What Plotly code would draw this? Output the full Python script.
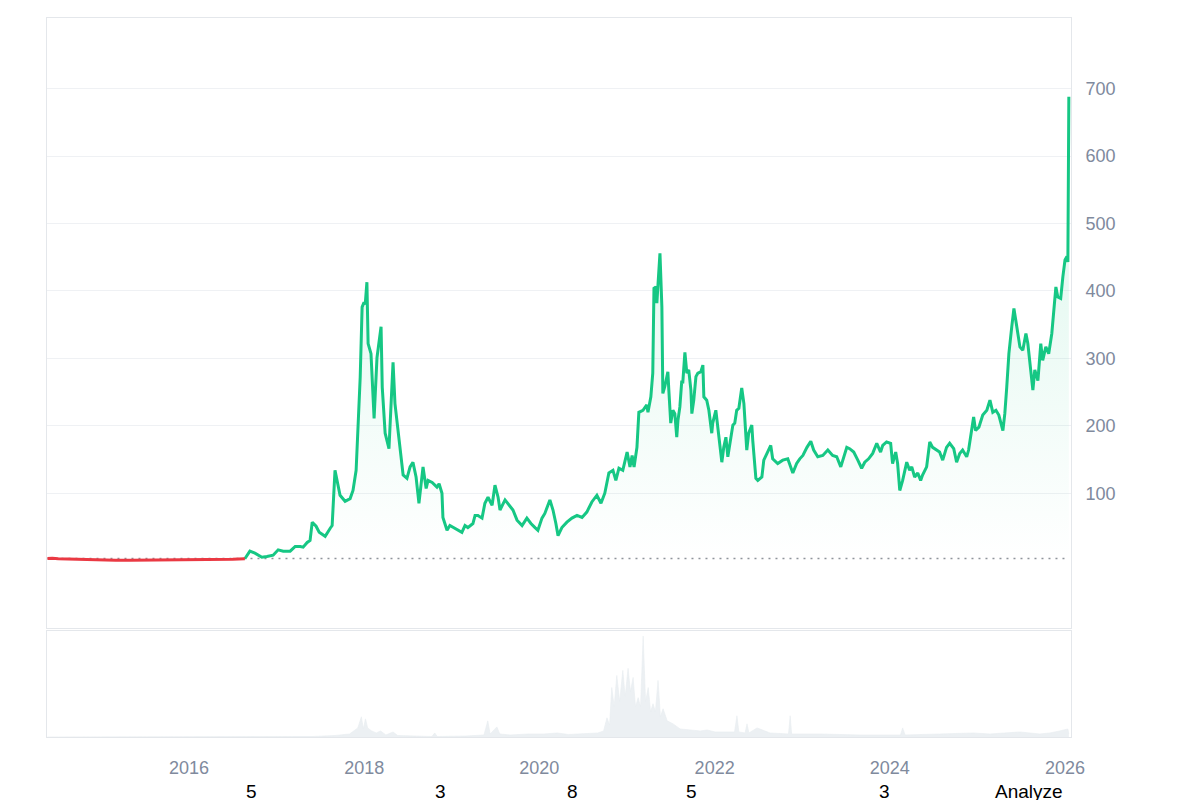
import plotly.graph_objects as go
from plotly.subplots import make_subplots

# price history, one line per year (dates and prices line up line by line)
PRICE_DATES = [
    "2014-05-21", "2014-06-10", "2014-07-05", "2014-08-15", "2014-10-01", "2014-11-15",
    "2015-01-01", "2015-03-01", "2015-05-01", "2015-07-01", "2015-09-01", "2015-11-01",
    "2016-01-01", "2016-03-01", "2016-05-01", "2016-07-01", "2016-08-21", "2016-09-11", "2016-10-02", "2016-10-31", "2016-11-21", "2016-12-17",
    "2017-01-07", "2017-01-28", "2017-02-26", "2017-03-19", "2017-04-09", "2017-04-21", "2017-05-08", "2017-05-20", "2017-05-29", "2017-06-14", "2017-06-27", "2017-07-22", "2017-08-12", "2017-08-20", "2017-09-01", "2017-09-22", "2017-10-13", "2017-11-03", "2017-11-15", "2017-11-28", "2017-12-15", "2017-12-23", "2017-12-31",
    "2018-01-05", "2018-01-12", "2018-01-17", "2018-01-29", "2018-02-11", "2018-02-23", "2018-03-12", "2018-03-17", "2018-03-29", "2018-04-14", "2018-05-01", "2018-05-09", "2018-05-30", "2018-06-12", "2018-06-28", "2018-07-11", "2018-07-23", "2018-08-05", "2018-08-17", "2018-09-03", "2018-09-16", "2018-09-24", "2018-10-11", "2018-10-31", "2018-11-09", "2018-11-21", "2018-11-25", "2018-12-12", "2018-12-24",
    "2019-01-10", "2019-01-27", "2019-02-12", "2019-02-25", "2019-03-09", "2019-03-30", "2019-04-08", "2019-04-20", "2019-05-07", "2019-05-19", "2019-06-01", "2019-06-18", "2019-06-30", "2019-07-13", "2019-07-21", "2019-08-11", "2019-08-23", "2019-09-13", "2019-09-30", "2019-10-21", "2019-11-10", "2019-11-27", "2019-12-14", "2019-12-26",
    "2020-01-12", "2020-01-24", "2020-02-14", "2020-02-27", "2020-03-10", "2020-03-19", "2020-04-04", "2020-04-25", "2020-05-16", "2020-06-06", "2020-06-27", "2020-07-17", "2020-08-07", "2020-08-28", "2020-09-14", "2020-09-30", "2020-10-17", "2020-11-03", "2020-11-15", "2020-11-28", "2020-12-14",
    "2021-01-01", "2021-01-13", "2021-01-22", "2021-01-30", "2021-02-11", "2021-02-19", "2021-03-08", "2021-03-24", "2021-03-29", "2021-04-10", "2021-04-18", "2021-04-23", "2021-05-01", "2021-05-05", "2021-05-09", "2021-05-18", "2021-05-26", "2021-05-30", "2021-06-07", "2021-06-20", "2021-06-24", "2021-07-02", "2021-07-11", "2021-07-19", "2021-07-27", "2021-08-01", "2021-08-09", "2021-08-17", "2021-08-21", "2021-08-30", "2021-09-07", "2021-09-15", "2021-09-24", "2021-09-28", "2021-10-06", "2021-10-15", "2021-10-23", "2021-11-04", "2021-11-13", "2021-11-17", "2021-11-29", "2021-12-08", "2021-12-20", "2021-12-24",
    "2022-01-06", "2022-01-14", "2022-01-31", "2022-02-08", "2022-02-17", "2022-02-25", "2022-03-09", "2022-03-18", "2022-03-26", "2022-04-03", "2022-04-12", "2022-04-24", "2022-05-03", "2022-05-15", "2022-05-23", "2022-06-05", "2022-06-09", "2022-06-22", "2022-06-30", "2022-07-17", "2022-07-25", "2022-08-06", "2022-08-23", "2022-08-31", "2022-09-21", "2022-10-12", "2022-11-02", "2022-11-23", "2022-12-09", "2022-12-22",
    "2023-01-04", "2023-01-21", "2023-02-06", "2023-02-18", "2023-03-07", "2023-03-28", "2023-04-18", "2023-05-08", "2023-05-25", "2023-06-11", "2023-06-19", "2023-07-06", "2023-07-18", "2023-08-04", "2023-08-21", "2023-09-06", "2023-09-19", "2023-10-05", "2023-10-22", "2023-11-08", "2023-11-24", "2023-12-03", "2023-12-19",
    "2024-01-05", "2024-01-13", "2024-01-26", "2024-02-03", "2024-02-12", "2024-02-24", "2024-03-03", "2024-03-12", "2024-03-24", "2024-04-02", "2024-04-14", "2024-04-27", "2024-05-09", "2024-05-17", "2024-06-03", "2024-06-16", "2024-06-28", "2024-07-15", "2024-07-27", "2024-08-09", "2024-08-25", "2024-09-07", "2024-09-24", "2024-10-06", "2024-10-19", "2024-10-31", "2024-11-17", "2024-11-25", "2024-12-08", "2024-12-16", "2024-12-24",
    "2025-01-07", "2025-01-23", "2025-02-09", "2025-02-22", "2025-03-06", "2025-03-19", "2025-03-31", "2025-04-17", "2025-04-25", "2025-05-03", "2025-05-12", "2025-05-24", "2025-06-02", "2025-06-14", "2025-06-27", "2025-07-09", "2025-07-22", "2025-07-30", "2025-08-11", "2025-08-20", "2025-08-28", "2025-09-10", "2025-09-22", "2025-09-30", "2025-10-13", "2025-10-25", "2025-11-07", "2025-11-15", "2025-11-24", "2025-12-02", "2025-12-14", "2025-12-23",
    "2026-01-01", "2026-01-09", "2026-01-13", "2026-01-17",
]
PRICES = [
    3.0, 3.4, 2.7, 2.3, 1.8, 1.2,
    0.6, 0.5, 0.6, 0.7, 0.6, 0.5,
    0.5, 1.0, 1.3, 1.9, 2.8, 14, 11, 5, 6, 8,
    16, 14, 14, 21, 21, 20, 27, 30, 57, 51, 42, 36, 48, 52, 134, 97, 88, 92, 104, 134, 272, 376, 383,
    380, 413, 322, 307, 211, 301, 347, 257, 189, 166, 294, 233, 168, 127, 122, 139, 146, 124, 85, 139, 107, 119, 116, 109, 114, 100, 64, 45, 52,
    49, 45, 42, 52, 49, 55, 67, 67, 63, 85, 94, 82, 112, 94, 75, 90, 85, 75, 60, 52, 63, 55, 49, 45,
    63, 70, 90, 75, 55, 37, 49, 57, 63, 67, 64, 72, 87, 97, 85, 100, 130, 134, 119, 137, 134,
    161, 139, 156, 139, 168, 220, 223, 231, 220, 243, 278, 404, 406, 382, 406, 456, 376, 248, 258, 280, 253, 204, 223, 218, 183, 208, 228, 267, 263, 309, 278, 283, 253, 218, 238, 273, 278, 280, 290, 243, 238, 223, 189, 204,
    223, 198, 146, 168, 183, 154, 183, 201, 204, 223, 226, 256, 233, 164, 189, 201, 178, 122, 119, 124, 149, 159, 171, 151, 144, 149, 151, 130, 144, 151,
    156, 168, 177, 164, 154, 156, 164, 156, 154, 139, 149, 168, 166, 161, 149, 137, 146, 151, 159, 174, 161, 171, 176,
    174, 144, 161, 144, 104, 119, 134, 146, 134, 139, 124, 130, 119, 127, 139, 176, 168, 164, 161, 149, 168, 174, 166, 146, 159, 164, 154, 164, 198, 213, 193,
    198, 216, 223, 238, 220, 223, 216, 193, 218, 257, 307, 347, 374, 347, 317, 312, 337, 322, 287, 253, 283, 267, 322, 297, 317, 307, 337, 367, 406, 391, 389, 421,
    446, 451, 443, 688,
]
assert len(PRICE_DATES) == len(PRICES)

# last date drawn in red (price under the opening price)
RED_UNTIL = "2016-08-21"

VOLUME_DATES = [
    "2014-05-21", "2016-12-01", "2017-06-01", "2017-09-01", "2017-11-01", "2017-12-05", "2017-12-20", "2017-12-28",
    "2018-01-06", "2018-01-15", "2018-02-01", "2018-02-20", "2018-03-10", "2018-04-01", "2018-05-01", "2018-05-20",
    "2018-09-01", "2018-10-10", "2018-10-22", "2018-11-01", "2019-03-01", "2019-05-15", "2019-05-31", "2019-06-10",
    "2019-07-08", "2019-07-20", "2019-09-01", "2019-11-15", "2020-01-20", "2020-03-15", "2020-05-01", "2020-07-01",
    "2020-09-01", "2020-09-25", "2020-10-09", "2020-10-20", "2020-10-29", "2020-11-08", "2020-11-19", "2020-12-01",
    "2020-12-14", "2020-12-24", "2021-01-05", "2021-01-15", "2021-01-26", "2021-02-05", "2021-02-16", "2021-02-26",
    "2021-03-09", "2021-03-19", "2021-03-30", "2021-04-09", "2021-04-19", "2021-04-29", "2021-05-10", "2021-05-20",
    "2021-05-31", "2021-06-17", "2021-07-12", "2021-08-10", "2021-09-21", "2021-11-02", "2021-12-01", "2022-01-03",
    "2022-03-25", "2022-04-04", "2022-04-12", "2022-05-08", "2022-05-16", "2022-05-24", "2022-06-27", "2022-08-20",
    "2022-11-05", "2022-11-12", "2022-11-18", "2023-03-16", "2023-08-30", "2024-02-15", "2024-02-24", "2024-03-05",
    "2024-07-28", "2024-12-13", "2025-02-22", "2025-06-27", "2025-09-18", "2025-10-30", "2025-12-10", "2026-01-13",
    "2026-01-17",
]
VOLUMES = [
    0, 0, 0.5, 1.5, 3, 9, 20, 8,
    18, 9, 6, 4, 6, 2, 5, 1.5,
    1, 0.5, 4, 0.5, 1, 2, 16, 3,
    10, 3, 2, 3, 3, 4, 2.5, 3,
    4, 6, 19, 12, 49, 30, 61, 35,
    66, 40, 68, 45, 59, 30, 39, 30,
    100, 35, 49, 25, 33, 25, 56, 20,
    28, 16, 13, 8, 7, 6, 7, 5,
    5, 21, 5, 4, 13, 4, 9, 4,
    3, 21, 3, 3, 2, 2, 9, 2,
    3, 4, 3, 5, 3, 4, 6, 8,
    3,
]
assert len(VOLUME_DATES) == len(VOLUMES)

PRICE_TICKS = [100, 200, 300, 400, 500, 600, 700]
YEAR_TICKS = ["2016-01-01", "2018-01-01", "2020-01-01", "2022-01-01", "2024-01-01", "2026-01-01"]
YEAR_LABELS = ["2016", "2018", "2020", "2022", "2024", "2026"]

FOOTER_TEXTS = ["5", "3", "8", "5", "3", "Analyze"]
FOOTER_X = [0.200, 0.384, 0.513, 0.629, 0.818, 0.959]

GREEN = "#16c784"
RED = "#ea3943"
LABEL = "#808a9d"
GRID = "#eff1f4"
FRAME = "#e4e7eb"
FONT = "Liberation Sans, Arial, sans-serif"

baseline = PRICES[0]
split = PRICE_DATES.index(RED_UNTIL)

fig = make_subplots(rows=2, cols=1, shared_xaxes=True, vertical_spacing=0.004, row_heights=[0.85, 0.15])

# dotted opening-price reference
fig.add_trace(go.Scatter(
    x=[PRICE_DATES[0], PRICE_DATES[-1]], y=[baseline, baseline], mode="lines",
    line=dict(color="#8f949b", width=1.5, dash="2px,5px"), hoverinfo="skip",
), row=1, col=1)

fig.add_trace(go.Scatter(
    x=PRICE_DATES[split:], y=PRICES[split:], mode="lines", name="Price",
    line=dict(color=GREEN, width=3), fill="tozeroy",
    fillgradient=dict(type="vertical", start=0, stop=700,
                      colorscale=[[0, "rgba(22,199,132,0.0)"], [1, "rgba(22,199,132,0.17)"]]),
), row=1, col=1)
fig.add_trace(go.Scatter(
    x=PRICE_DATES[:split + 1], y=PRICES[:split + 1], mode="lines", name="Price",
    line=dict(color=RED, width=3),
), row=1, col=1)

fig.add_trace(go.Scatter(
    x=VOLUME_DATES, y=VOLUMES, mode="lines", name="Volume",
    line=dict(color="#e8ecf0", width=0.6), fill="tozeroy", fillcolor="rgba(234,238,242,0.9)",
), row=2, col=1)

x_range = ["2014-05-19", "2026-01-26"]
fig.update_xaxes(range=x_range, showgrid=False, zeroline=False, showline=True, mirror=True,
                 linecolor=FRAME, linewidth=1)
fig.update_xaxes(showticklabels=False, row=1, col=1)
fig.update_xaxes(tickvals=YEAR_TICKS, ticktext=YEAR_LABELS, ticks="", ticklabelstandoff=14,
                 tickfont=dict(size=18, color=LABEL, family=FONT), row=2, col=1)

# the page body adds an 8px offset, so margins are trimmed on the top/left side
fig.update_layout(
    width=1200, height=800, showlegend=False,
    paper_bgcolor="white", plot_bgcolor="white",
    margin=dict(l=39, r=137, t=10, b=71),
    font=dict(family=FONT),
    yaxis=dict(domain=[0.1516, 1], range=[-100, 805], side="right", tickvals=PRICE_TICKS,
               gridcolor=GRID, gridwidth=1, zeroline=False, showline=True, mirror=True,
               linecolor=FRAME, ticks="", ticklabelstandoff=10,
               tickfont=dict(size=18, color=LABEL, family=FONT)),
    yaxis2=dict(domain=[0, 0.1474], range=[0, 105], showticklabels=False, showgrid=False,
                zeroline=False, showline=True, mirror=True, linecolor=FRAME),
)

for text, xpos in zip(FOOTER_TEXTS, FOOTER_X):
    fig.add_annotation(text=text, xref="paper", yref="paper", x=xpos, y=-0.076,
                       showarrow=False, xanchor="center", yanchor="middle",
                       font=dict(size=19, color="#000000", family=FONT))

fig.write_html("out.html")
